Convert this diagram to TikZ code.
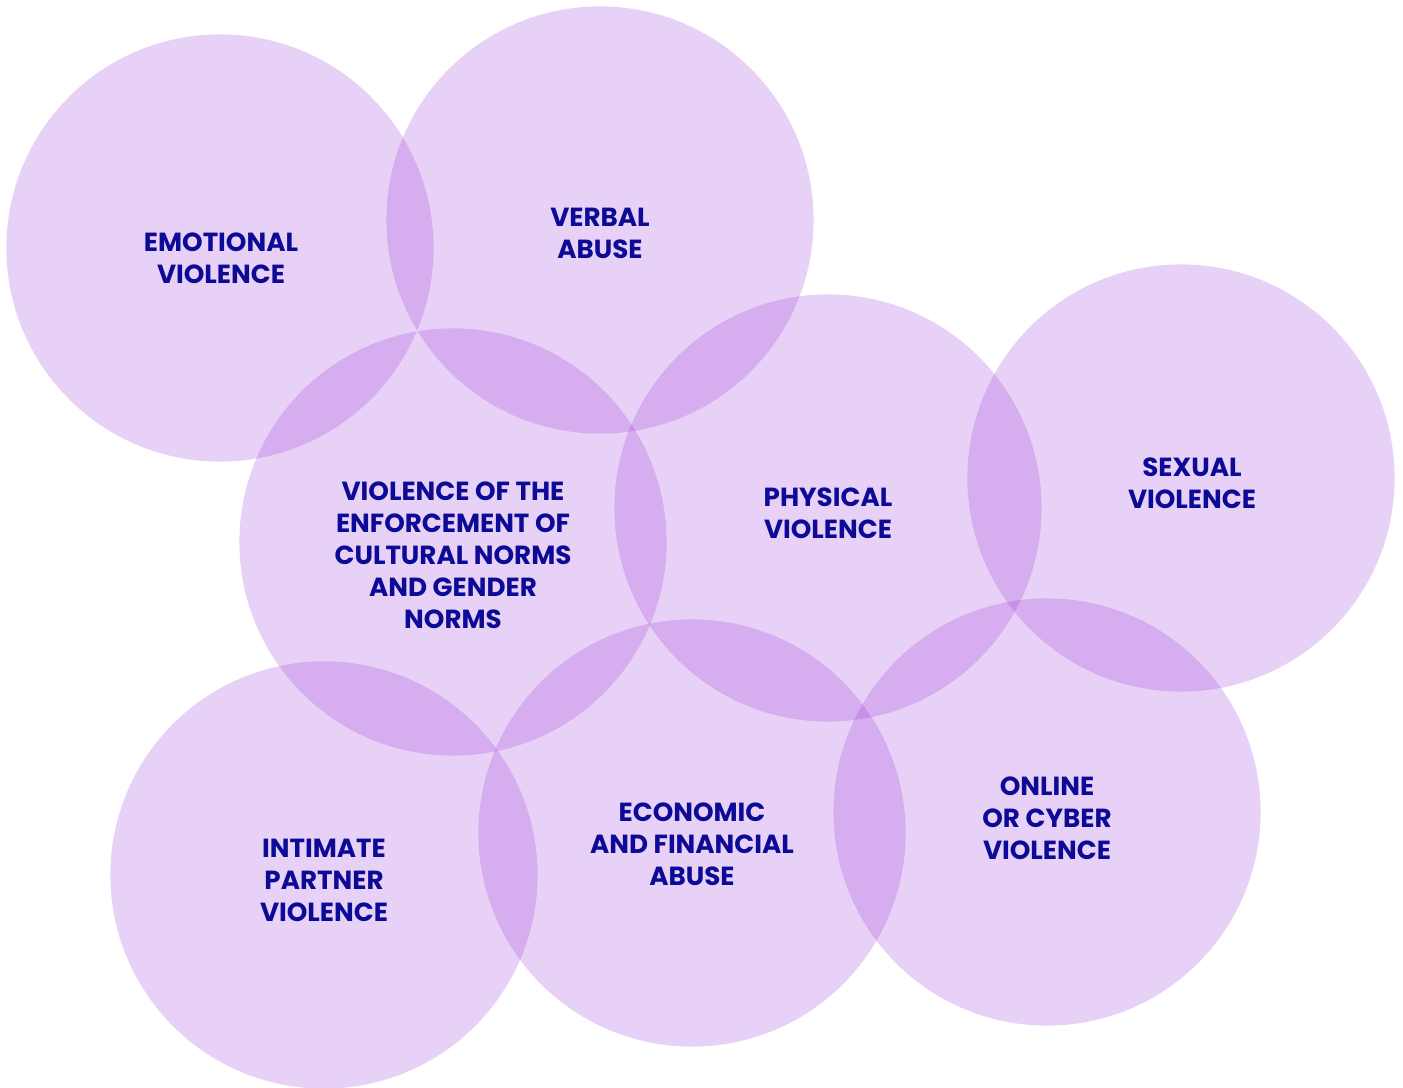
\documentclass[tikz,border=0pt]{standalone}
\usepackage{fontspec}
\setmainfont{Poppins}
\usepackage{tikz}
\usetikzlibrary{shapes}
\definecolor{blobfill}{RGB}{150,46,214}
\definecolor{labelblue}{RGB}{12,10,150}
\tikzset{
  blob/.style={circle,draw=none,fill=blobfill,fill opacity=0.22,minimum size=4.27cm,inner sep=0pt},
  lbl/.style={align=center,text=labelblue,inner sep=0pt,font=\fontsize{7.45}{9.1}\selectfont\bfseries}
}
\begin{document}
\begin{tikzpicture}[x=0.01cm,y=-0.01cm]
\useasboundingbox (0,0) rectangle (1403,1088);
% circles
\node [blob] (emo) at (220,248) {};
\node [blob] (verb) at (600,220) {};
\node [blob] (cult) at (453,542) {};
\node [blob] (phys) at (828,508) {};
\node [blob] (sex) at (1181,478) {};
\node [blob] (ipv) at (324,875) {};
\node [blob] (econ) at (692,833) {};
\node [blob] (cyber) at (1047,812) {};
% labels
\node [lbl] (emo-t) at (221,258) {EMOTIONAL\\VIOLENCE};
\node [lbl] (verb-t) at (600,233) {VERBAL\\ABUSE};
\node [lbl] (cult-t) at (453,555) {VIOLENCE OF THE\\ENFORCEMENT OF\\CULTURAL NORMS\\AND GENDER\\NORMS};
\node [lbl] (phys-t) at (828,513) {PHYSICAL\\VIOLENCE};
\node [lbl] (sex-t) at (1192,483) {SEXUAL\\VIOLENCE};
\node [lbl] (ipv-t) at (324,880) {INTIMATE\\PARTNER\\VIOLENCE};
\node [lbl] (econ-t) at (692,844) {ECONOMIC\\AND FINANCIAL\\ABUSE};
\node [lbl] (cyber-t) at (1047,818) {ONLINE\\OR CYBER\\VIOLENCE};
\end{tikzpicture}
\end{document}
